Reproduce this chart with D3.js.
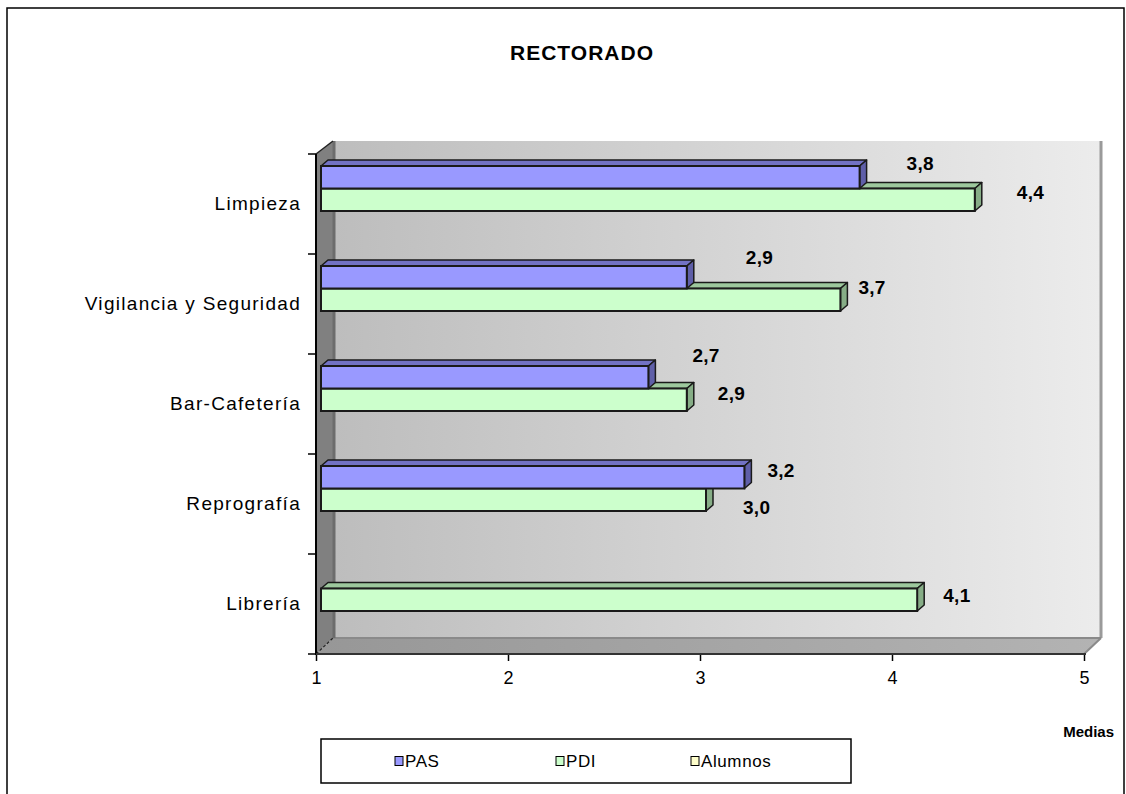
<!DOCTYPE html>
<html>
<head>
<meta charset="utf-8">
<script src="https://cdn.jsdelivr.net/npm/d3@7"></script>
<style>
  html, body { margin: 0; padding: 0; background: #fff; }
  svg { display: block; font-family: "Liberation Sans", Arial, sans-serif; }
</style>
</head>
<body>
<svg id="chart" width="1126" height="794"></svg>
<script>
// Survey averages per service (scale 1-5)
const categories = ["Limpieza", "Vigilancia y Seguridad", "Bar-Cafetería", "Reprografía", "Librería"];
const seriesNames = ["PAS", "PDI", "Alumnos"];
const pasValues = [3.8, 2.9, 2.7, 3.2, null];
const pdiValues = [4.4, 3.7, 2.9, 3.0, 4.1];
const alumnosValues = [null, null, null, null, null];
const xTickValues = [1, 2, 3, 4, 5];

// Hand-placed data label nudges [dx from value, dy from bar centre]
const pasLabelNudge = [[53, -14], [65, -20], [50, -22], [29, -7], null];
const pdiLabelNudge = [[48, -7], [24, -12], [37, -6], [43, 8], [32, -4]];

const colors = {
  PAS: { front: "#9999ff", top: "#7272c4", side: "#5f5fa8" },
  PDI: { front: "#ccffcc", top: "#9dc89d", side: "#86ad86" },
  Alumnos: { front: "#ffffcc", top: "#cccc99", side: "#b3b386" }
};

const svg = d3.select("#chart");

// Outer frame
svg.append("rect").attr("x", 7).attr("y", 8).attr("width", 1117).attr("height", 800)
  .attr("fill", "#fff").attr("stroke", "#000").attr("stroke-width", 1.5);

// Title
svg.append("text").attr("x", 582).attr("y", 60).attr("text-anchor", "middle")
  .attr("font-size", 21).attr("font-weight", "bold").attr("letter-spacing", 1)
  .text("RECTORADO");

// Scales
const x = d3.scaleLinear().domain([1, 5]).range([316, 1084]);
const y = d3.scaleBand().domain(categories).range([154, 654]);
const inner = d3.scaleBand().domain(["PAS", "PDI"]).range([12, 57]);

const depth = { dx: 17, dy: -13 };
const barDepth = { dx: 7, dy: -6 };
const barShift = 6;

const [x0, x1] = x.range();
const [y0, y1] = y.range();

// Gradients for walls
const defs = svg.append("defs");
const gWall = defs.append("linearGradient").attr("id", "wallGrad").attr("x1", 0).attr("x2", 1).attr("y1", 0).attr("y2", 0);
gWall.append("stop").attr("offset", "0%").attr("stop-color", "#bdbdbd");
gWall.append("stop").attr("offset", "100%").attr("stop-color", "#ececec");
const gFloor = defs.append("linearGradient").attr("id", "floorGrad").attr("x1", 0).attr("x2", 1).attr("y1", 0).attr("y2", 0);
gFloor.append("stop").attr("offset", "0%").attr("stop-color", "#979797");
gFloor.append("stop").attr("offset", "100%").attr("stop-color", "#b3b3b3");

const plot = svg.append("g");

// Back wall
plot.append("rect")
  .attr("x", x0 + depth.dx).attr("y", y0 + depth.dy)
  .attr("width", x1 - x0).attr("height", y1 - y0 - 3)
  .attr("fill", "url(#wallGrad)");
plot.append("line")
  .attr("x1", x1 + depth.dx).attr("x2", x1 + depth.dx)
  .attr("y1", y0 + depth.dy).attr("y2", y1 - 16)
  .attr("stroke", "#9a9a9a").attr("stroke-width", 3);

// Floor
const floorBack = y1 - 16;
plot.append("polygon")
  .attr("points", [[x0, y1], [x0 + depth.dx, floorBack], [x1 + depth.dx, floorBack], [x1, y1]].map(p => p.join(",")).join(" "))
  .attr("fill", "url(#floorGrad)");
plot.append("line")
  .attr("x1", x0 + depth.dx).attr("x2", x1 + depth.dx)
  .attr("y1", floorBack).attr("y2", floorBack)
  .attr("stroke", "#8a8a8a").attr("stroke-width", 2);
plot.append("line")
  .attr("x1", x1).attr("y1", y1).attr("x2", x1 + depth.dx).attr("y2", floorBack)
  .attr("stroke", "#8a8a8a").attr("stroke-width", 2);

// Side wall
plot.append("polygon")
  .attr("points", [[x0, y0], [x0 + depth.dx, y0 + depth.dy], [x0 + depth.dx, floorBack], [x0, y1]].map(p => p.join(",")).join(" "))
  .attr("fill", "#808080");
plot.append("line")
  .attr("x1", x0 + depth.dx + 1).attr("x2", x0 + depth.dx + 1)
  .attr("y1", y0 + depth.dy).attr("y2", floorBack)
  .attr("stroke", "#6c6c6c").attr("stroke-width", 3);
plot.append("line")
  .attr("x1", x0).attr("y1", y0).attr("x2", x0 + depth.dx).attr("y2", y0 + depth.dy)
  .attr("stroke", "#222").attr("stroke-width", 1.5);
plot.append("line")
  .attr("x1", x0).attr("y1", y1).attr("x2", x0 + depth.dx).attr("y2", floorBack)
  .attr("stroke", "#222").attr("stroke-width", 1.2).attr("stroke-dasharray", "3,2");

// Bars: draw PDI first so PAS front covers PDI's top face
const seriesData = [
  { name: "PDI", values: pdiValues, nudge: pdiLabelNudge },
  { name: "PAS", values: pasValues, nudge: pasLabelNudge }
];

const barsG = plot.append("g");
seriesData.forEach(s => {
  const c = colors[s.name];
  categories.forEach((cat, i) => {
    const v = s.values[i];
    if (v == null) return;
    const top = y(cat) + inner(s.name);
    const h = inner.bandwidth();
    const left = x(1) + 5;
    const right = x(v) + barShift;
    const g = barsG.append("g");
    // top face
    g.append("polygon")
      .attr("points", [[left, top], [left + barDepth.dx, top + barDepth.dy], [right + barDepth.dx, top + barDepth.dy], [right, top]].map(p => p.join(",")).join(" "))
      .attr("fill", c.top).attr("stroke", "#1a1a1a").attr("stroke-width", 1.5).attr("stroke-linejoin", "round");
    // right side face
    g.append("polygon")
      .attr("points", [[right, top], [right + barDepth.dx, top + barDepth.dy], [right + barDepth.dx, top + h + barDepth.dy], [right, top + h]].map(p => p.join(",")).join(" "))
      .attr("fill", c.side).attr("stroke", "#1a1a1a").attr("stroke-width", 1.5).attr("stroke-linejoin", "round");
    // front face
    g.append("rect")
      .attr("x", left).attr("y", top).attr("width", right - left).attr("height", h)
      .attr("fill", c.front).attr("stroke", "#1a1a1a").attr("stroke-width", 2);
  });
});

// Data labels
const labelsG = plot.append("g");
seriesData.forEach(s => {
  categories.forEach((cat, i) => {
    const v = s.values[i];
    if (v == null) return;
    const n = s.nudge[i];
    const cy = y(cat) + inner(s.name) + inner.bandwidth() / 2;
    labelsG.append("text")
      .attr("x", x(v) + n[0]).attr("y", cy + n[1])
      .attr("dominant-baseline", "central")
      .attr("font-size", 19).attr("font-weight", "bold").attr("letter-spacing", 0.3)
      .text(d3.format(".1f")(v).replace(".", ","));
  });
});

// Vertical (category) axis
const yAxis = d3.axisLeft(y).tickSize(0).tickPadding(15);
const yAxisG = plot.append("g").attr("transform", `translate(${x0},0)`).call(yAxis);
yAxisG.select(".domain").remove();
yAxisG.selectAll("text").attr("font-size", 19).attr("letter-spacing", 1.3)
  .attr("font-family", "'Liberation Sans', Arial, sans-serif").attr("fill", "#000");
plot.append("line").attr("x1", x0).attr("x2", x0).attr("y1", y0).attr("y2", y1 + 1)
  .attr("stroke", "#000").attr("stroke-width", 2);
const bounds = categories.map(c => y(c)).concat([y1]);
plot.selectAll(".ytick").data(bounds).join("line")
  .attr("class", "ytick")
  .attr("x1", x0 - 8).attr("x2", x0).attr("y1", d => d).attr("y2", d => d)
  .attr("stroke", "#000").attr("stroke-width", 1.5);

// Horizontal (value) axis
const xAxis = d3.axisBottom(x).tickValues(xTickValues).tickFormat(d3.format("d")).tickSize(7).tickPadding(10);
const xAxisG = plot.append("g").attr("transform", `translate(0,${y1})`).call(xAxis);
xAxisG.select(".domain").remove();
xAxisG.selectAll("line").attr("stroke", "#000").attr("stroke-width", 1.5);
xAxisG.selectAll("text").attr("font-size", 18).attr("font-family", "'Liberation Sans', Arial, sans-serif").attr("fill", "#000");
plot.append("line").attr("x1", x0).attr("x2", x1 + 2).attr("y1", y1).attr("y2", y1)
  .attr("stroke", "#333").attr("stroke-width", 2);

// Axis title
svg.append("text").attr("x", 1114).attr("y", 737).attr("text-anchor", "end")
  .attr("font-size", 15).attr("font-weight", "bold")
  .text("Medias");

// Legend
const legend = svg.append("g");
legend.append("rect").attr("x", 321).attr("y", 739).attr("width", 530).attr("height", 44)
  .attr("fill", "#fff").attr("stroke", "#000").attr("stroke-width", 1.5);
const legendX = [395, 556, 691];
seriesNames.forEach((name, i) => {
  const g = legend.append("g").attr("transform", `translate(${legendX[i]},761)`);
  g.append("rect").attr("x", 0).attr("y", -4.5).attr("width", 8).attr("height", 9)
    .attr("fill", colors[name].front).attr("stroke", "#000").attr("stroke-width", 1);
  g.append("text").attr("x", 10).attr("y", 0).attr("dominant-baseline", "central")
    .attr("font-size", 17).attr("letter-spacing", 0.6).text(name);
});
</script>
</body>
</html>
